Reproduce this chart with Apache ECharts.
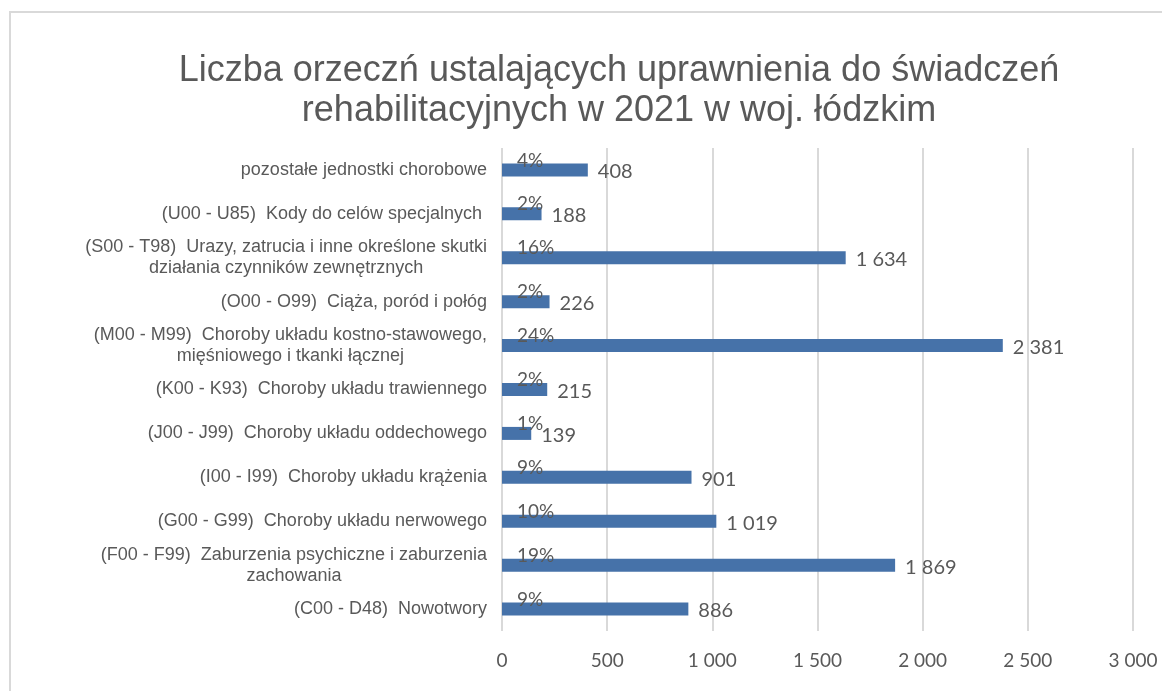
<!DOCTYPE html>
<html>
<head>
<meta charset="utf-8">
<script src="https://cdn.jsdelivr.net/npm/echarts@6/dist/echarts.min.js"></script>
<style>
  html, body { margin: 0; padding: 0; background: #fff; }
  #main { width: 1162px; height: 691px; }
</style>
</head>
<body>
<div id="main"></div>
<script>
  // kategorie od góry do dołu
  var categories = [
    'pozostałe jednostki chorobowe',
    '(U00 - U85)  Kody do celów specjalnych ',
    '(S00 - T98)  Urazy, zatrucia i inne określone skutki\ndziałania czynników zewnętrznych',
    '(O00 - O99)  Ciąża, poród i połóg',
    '(M00 - M99)  Choroby układu kostno-stawowego,\nmięśniowego i tkanki łącznej',
    '(K00 - K93)  Choroby układu trawiennego',
    '(J00 - J99)  Choroby układu oddechowego',
    '(I00 - I99)  Choroby układu krążenia',
    '(G00 - G99)  Choroby układu nerwowego',
    '(F00 - F99)  Zaburzenia psychiczne i zaburzenia\nzachowania',
    '(C00 - D48)  Nowotwory'
  ]
  var values = [408, 188, 1634, 226, 2381, 215, 139, 901, 1019, 1869, 886]
  var shares = ['4%', '2%', '16%', '2%', '24%', '2%', '1%', '9%', '10%', '19%', '9%']
  var axisTicks = [0, 500, 1000, 1500, 2000, 2500, 3000]

  function fmt(v) {
    return String(v).replace(/\B(?=(\d{3})+(?!\d))/g, ' ')
  }

  var textColor = '#595959'
  var gridColor = '#d9d9d9'

  var myChart = echarts.init(document.getElementById('main'))
  myChart.setOption({
    animation: false,
    title: {
      text: 'Liczba orzeczń ustalających uprawnienia do świadczeń\nrehabilitacyjnych w 2021 w woj. łódzkim',
      left: 614,
      top: 46,
      textAlign: 'center',
      textStyle: {
        fontFamily: 'Liberation Sans',
        fontWeight: 'normal',
        fontSize: 36,
        lineHeight: 40,
        color: textColor
      }
    },
    graphic: [{
      type: 'rect',
      shape: { x: 10, y: 12, width: 1300, height: 800 },
      style: { fill: 'none', stroke: gridColor, lineWidth: 2 },
      silent: true
    }],
    grid: {
      left: 502,
      right: 29,
      top: 148,
      bottom: 60
    },
    xAxis: {
      type: 'value',
      min: axisTicks[0],
      max: axisTicks[axisTicks.length - 1],
      interval: 500,
      axisLine: { show: false },
      axisTick: { show: false },
      splitLine: { lineStyle: { color: gridColor, width: 2 } },
      axisLabel: {
        margin: 20,
        color: textColor,
        fontFamily: 'Lato',
        fontSize: 19,
        formatter: function (v) { return fmt(v) }
      }
    },
    yAxis: {
      type: 'category',
      inverse: true,
      data: categories,
      axisLine: { show: false },
      axisTick: { show: false },
      axisLabel: {
        margin: 15,
        formatter: function (v) {
          return v.split('\n').map(function (s) { return '{c|' + s + '}' }).join('\n')
        },
        rich: {
          c: {
            align: 'center',
            color: textColor,
            fontFamily: 'Liberation Sans',
            fontSize: 18,
            lineHeight: 21
          }
        }
      }
    },
    series: [
      {
        type: 'bar',
        data: values,
        barWidth: 13,
        barGap: '-100%',
        itemStyle: { color: '#4672A9' },
        label: {
          show: true,
          position: 'right',
          distance: 10,
          color: textColor,
          fontFamily: 'Lato',
          fontSize: 20,
          offset: [0, 2],
          formatter: function (p) { return fmt(p.value) }
        }
      },
      {
        type: 'bar',
        data: values,
        barWidth: 13,
        barGap: '-100%',
        itemStyle: { color: 'rgba(0,0,0,0)' },
        silent: true,
        label: {
          show: true,
          position: [15, -3],
          verticalAlign: 'middle',
          color: textColor,
          fontFamily: 'Lato',
          fontSize: 19,
          formatter: function (p) { return shares[p.dataIndex] }
        }
      }
    ]
  })
</script>
</body>
</html>
